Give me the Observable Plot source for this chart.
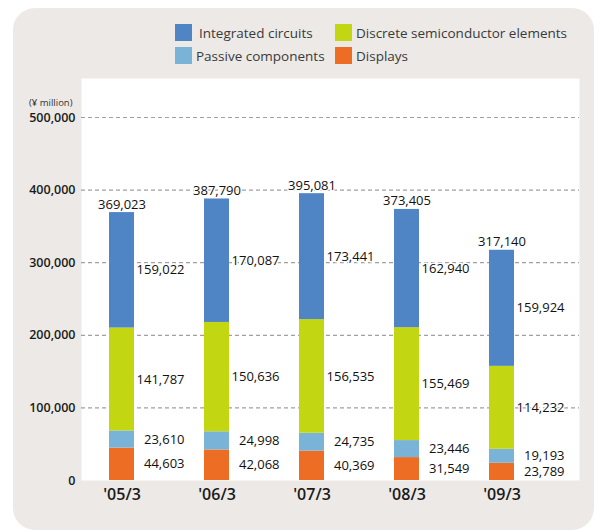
<!DOCTYPE html>
<html>
<head>
<meta charset="utf-8">
<script src="https://cdn.jsdelivr.net/npm/d3@7"></script>
<script src="https://cdn.jsdelivr.net/npm/@observablehq/plot@0.6"></script>
<style>
  html, body { margin: 0; padding: 0; background: #ffffff; }
  body { width: 594px; height: 530px; position: relative; overflow: hidden; font-family: "Open Sans", sans-serif; }
  #panel { position: absolute; left: 13px; top: 8px; width: 581px; height: 522px; background: #ECE9E6; border-radius: 22px; }
  #chart { position: absolute; left: 0; top: 0; }
  #legend { position: absolute; left: 175px; top: 24px; font-size: 13.5px; color: #3a3a3a; }
  .item { position: absolute; display: flex; align-items: center; white-space: nowrap; height: 17px; }
  .sw { width: 17px; height: 17px; margin-right: 4px; flex: none; }
</style>
</head>
<body>
<div id="panel"></div>
<div id="chart"></div>
<div id="legend"></div>
<script>
const periods = ["'05/3", "'06/3", "'07/3", "'08/3", "'09/3"];
const series = ["Displays", "Passive components", "Discrete semiconductor elements", "Integrated circuits"];
const displays = [44603, 42068, 40369, 31549, 23789];
const passive = [23610, 24998, 24735, 23446, 19193];
const discrete = [141787, 150636, 156535, 155469, 114232];
const integrated = [159022, 170087, 173441, 162940, 159924];
const totals = [369023, 387790, 395081, 373405, 317140];
const yTicks = [0, 100000, 200000, 300000, 400000, 500000];
const colors = ["#EC6D23", "#7AB3D8", "#C3D612", "#5085C5"];

const seriesValues = [displays, passive, discrete, integrated];
const rows = [];
periods.forEach((p, i) => {
  let base = 0;
  seriesValues.forEach((vals, s) => {
    const v = vals[i];
    rows.push({period: p, series: series[s], value: v, mid: base + v / 2});
    base += v;
  });
});
const totalRows = periods.map((p, i) => ({period: p, total: totals[i]}));
const fmt = d3.format(",");

const chart = Plot.plot({
  width: 594,
  height: 530,
  marginLeft: 81,
  marginRight: 15,
  marginTop: 78,
  marginBottom: 50,
  style: {background: "transparent", fontFamily: "Open Sans, sans-serif", color: "#1a1a1a"},
  x: {domain: periods, range: [108, 515], paddingInner: 0.738, paddingOuter: 0, label: null},
  y: {domain: [0, 500000], range: [480, 117], label: null},
  color: {domain: series, range: colors},
  marks: [
    Plot.frame({fill: "white", stroke: null}),
    Plot.gridY(yTicks.filter(d => d > 0), {stroke: "#a0a0a0", strokeOpacity: 1, strokeDasharray: "4,3", strokeWidth: 1.2}),
    Plot.text(rows, {x: "period", y: "mid", text: d => fmt(d.value), textAnchor: "end", dx: 62.5, fontSize: 13, fill: "#111", stroke: "white", strokeWidth: 3}),
    Plot.text(totalRows, {x: "period", y: "total", text: d => fmt(d.total), lineAnchor: "bottom", dy: -4, fontSize: 13, fill: "#111", stroke: "white", strokeWidth: 3}),
    Plot.barY(rows, {x: "period", y: "value", fill: "series", order: series}),
    Plot.axisY({ticks: yTicks, tickFormat: fmt, tickSize: 0, tickPadding: 6, fontSize: 12.5, fontWeight: 600, label: null}),
    Plot.axisX({tickSize: 0, tickPadding: 8, fontSize: 16, fontWeight: 600, label: null}),
    Plot.text(["(¥ million)"], {frameAnchor: "top-left", textAnchor: "end", dx: -9, dy: 21, fontSize: 9.5, fill: "#333"})
  ]
});
document.getElementById("chart").appendChild(chart);

const legend = document.getElementById("legend");
const legendOrder = [
  {name: "Integrated circuits", left: 0, top: 0},
  {name: "Discrete semiconductor elements", left: 160, top: 0},
  {name: "Passive components", left: 0, top: 23},
  {name: "Displays", left: 160, top: 23}
];
legendOrder.forEach(it => {
  const div = document.createElement("div");
  div.className = "item";
  div.style.left = it.left + "px";
  div.style.top = it.top + "px";
  const sw = document.createElement("span");
  sw.className = "sw";
  sw.style.background = colors[series.indexOf(it.name)];
  if (it.name === "Integrated circuits") sw.style.marginRight = "7px";
  const t = document.createElement("span");
  t.textContent = it.name;
  div.appendChild(sw);
  div.appendChild(t);
  legend.appendChild(div);
});
</script>
</body>
</html>
